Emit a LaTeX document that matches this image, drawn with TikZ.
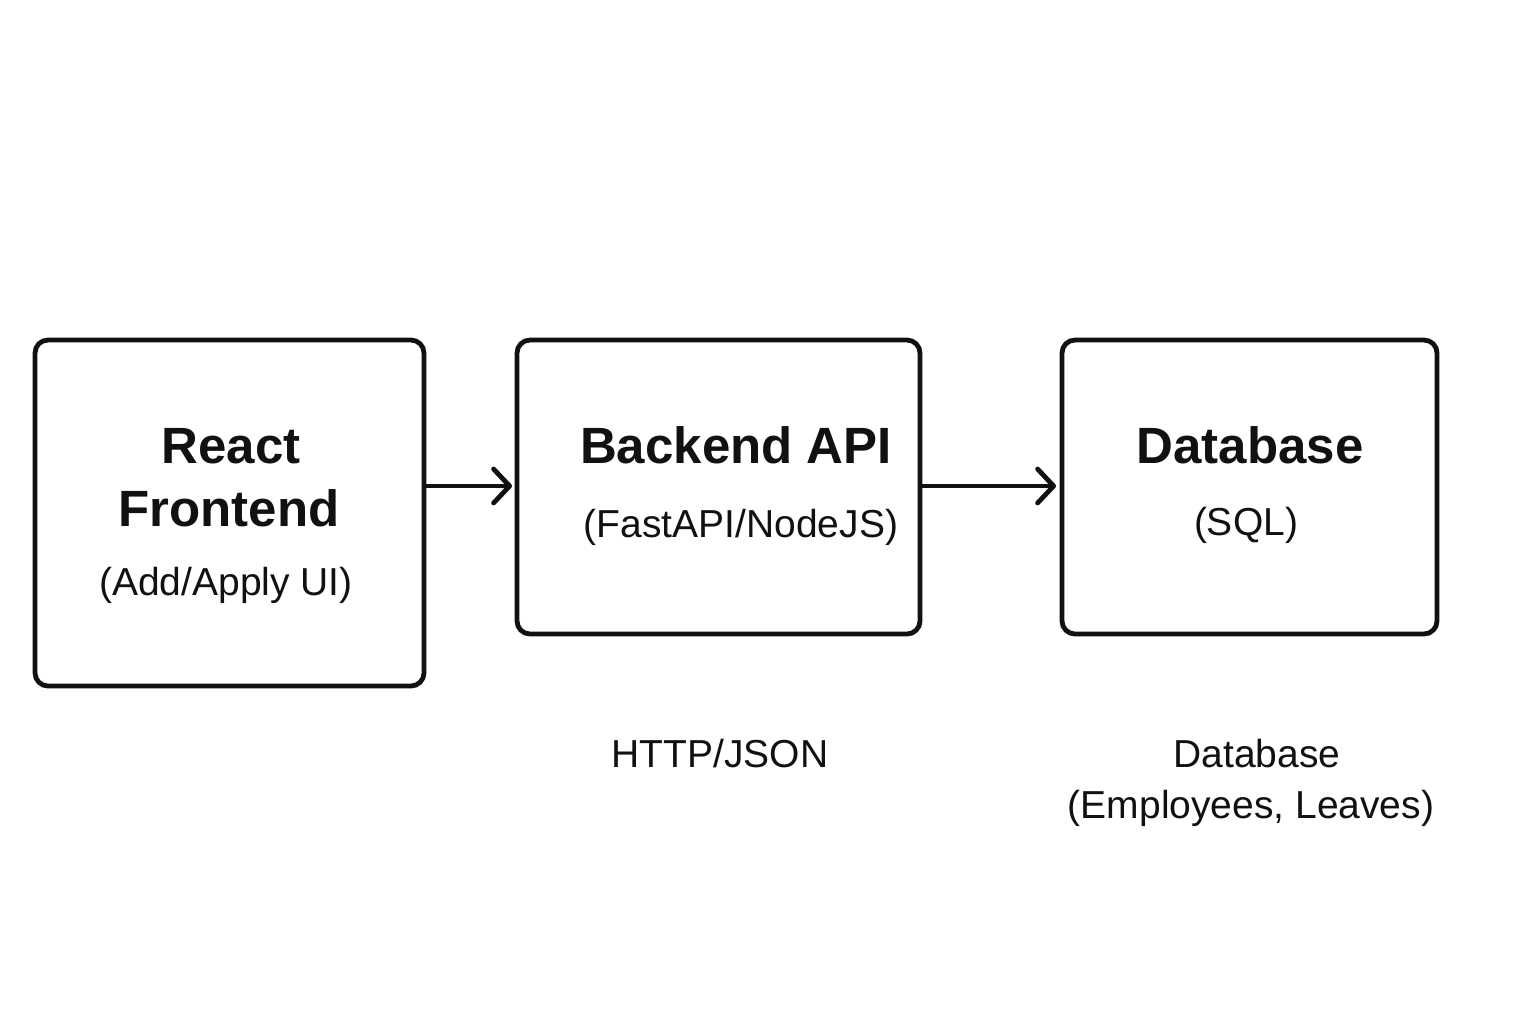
\documentclass[tikz,border=0pt]{standalone}
\usepackage{fontspec}
\setmainfont{Liberation Sans}
\usetikzlibrary{arrows.meta}
\definecolor{ink}{HTML}{111111}
\tikzset{
  box/.style={draw=ink, line width=2.4pt, rounded corners=6.5pt},
  conn/.style={draw=ink, line width=2.4pt, -{Straight Barb[length=8pt,width=17pt,line cap=round,line join=round]}},
  title/.style={anchor=base, inner sep=0pt, text=ink, font=\bfseries\fontsize{25.5}{30}\selectfont},
  sub/.style={anchor=base, inner sep=0pt, text=ink, font=\fontsize{19.5}{24}\selectfont},
}
\begin{document}
\begin{tikzpicture}[x=0.5pt, y=-0.5pt]
\useasboundingbox (0,0) rectangle (1536,1024);
\fill[white] (0,0) rectangle (1536,1024);
% boxes
\draw[box] (35,340) rectangle (424,686);
\draw[box] (517,340) rectangle (920,634);
\draw[box] (1062,340) rectangle (1437,634);
\coordinate (fe) at (424,486);
\coordinate (bi) at (512,486);
\coordinate (be) at (920,486);
\coordinate (di) at (1056,486);
\path[conn] (fe) -- (bi);
\path[conn] (be) -- (di);
% texts
\node[title] (t1a) at (231,463) {React};
\node[title] (t1b) at (229,526) {Frontend};
\node[sub] (s1) at (226,595) {(Add/Apply UI)};
\node[title] (t2) at (736,463) {Backend API};
\node[sub] (s2) at (741,537) {(FastAPI/NodeJS)};
\node[title] (t3) at (1250,463) {Database};
\node[sub] (s3) at (1246,535) {(SQL)};
\node[sub] (l1) at (720,767) {HTTP/JSON};
\node[sub] (l2a) at (1257,767) {Database};
\node[sub] (l2b) at (1251,818) {(Employees, Leaves)};
\end{tikzpicture}
\end{document}
